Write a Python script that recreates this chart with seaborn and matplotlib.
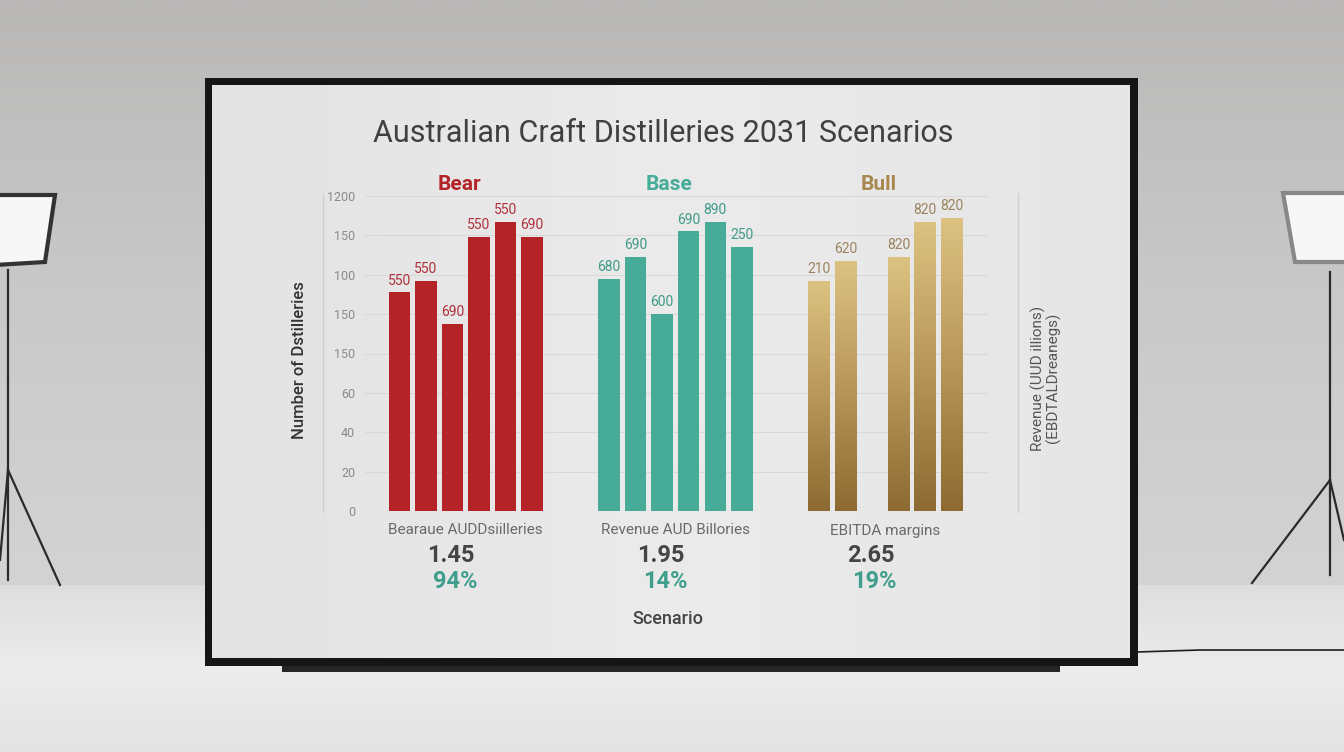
import numpy as np
import pandas as pd
import matplotlib
matplotlib.use("Agg")
import matplotlib.pyplot as plt
import seaborn as sns
from matplotlib.patches import Rectangle, Polygon
from matplotlib.colors import LinearSegmentedColormap
import matplotlib.transforms as mtransforms

# chart values
scenarios = ["Bear", "Base", "Bull"]
slots = ["s1", "s2", "s3", "s4", "s5", "s6"]
bear_counts = [111, 117, 95, 139, 147, 139]
base_counts = [118, 129, 100, 142, 147, 134]
bull_counts = [117, 127, np.nan, 129, 147, 149]
bear_tags = ["550", "550", "690", "550", "550", "690"]
base_tags = ["680", "690", "600", "690", "890", "250"]
bull_tags = ["210", "620", "", "820", "820", "820"]
y_ticks = [0, 20, 40, 60, 80, 100, 120, 140, 160]
y_ticklabels = ["0", "20", "40", "60", "150", "150", "100", "150", "1200"]
metric_labels = ["Bearaue AUDDsiilleries", "Revenue AUD Billories", "EBITDA margins"]
revenue_vals = ["1.45", "1.95", "2.65"]
margin_vals = ["94%", "14%", "19%"]

colors = {"Bear": "#b42328", "Base": "#46ab97", "Bull": "#b8975a"}
tag_colors = {"Bear": "#b0303a", "Base": "#3f9a88", "Bull": "#9c8460"}
teal = "#3f9e8c"

rows = []
for sc, vals in zip(scenarios, [bear_counts, base_counts, bull_counts]):
    for sl, v in zip(slots, vals):
        rows.append({"scenario": sc, "slot": sl, "count": v})
df = pd.DataFrame(rows)
tags = {"Bear": bear_tags, "Base": base_tags, "Bull": bull_tags}

W, H = 1344, 752
fig = plt.figure(figsize=(W / 100, H / 100), dpi=100)

# --- studio backdrop (photo of a monitor) ---
bg = fig.add_axes([0, 0, 1, 1], zorder=-5)
bg.set_xlim(0, W)
bg.set_ylim(H, 0)
bg.axis("off")
wall = LinearSegmentedColormap.from_list("wall", ["#b9b8b7", "#c9c9c9", "#d3d3d3"])
bg.imshow(np.linspace(0, 1, 256).reshape(-1, 1), cmap=wall, extent=[0, W, 585, 0], aspect="auto", zorder=0)
floor = LinearSegmentedColormap.from_list("floor", ["#dedede", "#ececec", "#e4e4e4"])
bg.imshow(np.linspace(0, 1, 256).reshape(-1, 1), cmap=floor, extent=[0, W, H, 585], aspect="auto", zorder=0)

# light stands
for pts in [[(8, 270), (8, 580)], [(8, 470), (60, 585)], [(8, 470), (0, 560)],
            [(1330, 272), (1330, 575)], [(1330, 480), (1252, 583)], [(1330, 480), (1344, 540)]]:
    bg.plot(*zip(*pts), color="#2a2a2a", lw=1.6, zorder=1)
bg.add_patch(Polygon([(-5, 195), (55, 195), (45, 262), (-5, 265)], closed=True, fc="#f7f7f7", ec="#333", lw=3, zorder=1))
bg.add_patch(Polygon([(1283, 193), (1350, 193), (1350, 262), (1295, 262)], closed=True, fc="#f7f7f7", ec="#888", lw=3, zorder=1))
bg.plot([1137, 1200, 1344], [652, 650, 650], color="#1e1e1e", lw=1.2, zorder=1)

# monitor
bg.add_patch(Rectangle((282, 656), 778, 16, fc="#262626", ec="none", zorder=2))
bg.add_patch(Rectangle((205, 78), 933, 588, fc="#151515", ec="none", zorder=2))
screen = LinearSegmentedColormap.from_list("screen", ["#e3e3e3", "#ebebeb", "#e6e6e6"])
bg.imshow(np.linspace(0, 1, 256).reshape(1, -1), cmap=screen, extent=[212, 1130, 658, 85],
          aspect="auto", zorder=3)

# --- the chart on the screen ---
sns.set_style("white")
plt.rcParams["font.family"] = ["Roboto", "DejaVu Sans"]

ax = fig.add_axes([365 / W, 1 - 511 / H, 623 / W, 315 / H])
ax.set_facecolor("none")
sns.barplot(data=df, x="scenario", y="count", hue="slot", order=scenarios, hue_order=slots,
            width=0.76, gap=0.19, dodge=True, errorbar=None, legend=False, saturation=1,
            palette=["#999999"] * 6, ax=ax, zorder=3)

gold = LinearSegmentedColormap.from_list("gold", ["#8d6a31", "#b8975a", "#dcc382"])
grad = np.linspace(0, 1, 256).reshape(-1, 1)
step = 0.76 / 6
for p in list(ax.patches):
    h = p.get_height()
    if not np.isfinite(h) or h == 0:
        continue
    cx = p.get_x() + p.get_width() / 2
    j = int(round(cx))
    k = int(round((cx - j + 0.38 - step / 2) / step))
    sc = scenarios[j]
    p.set_facecolor(colors[sc])
    p.set_edgecolor("none")
    if sc == "Bull":
        im = ax.imshow(grad, extent=[p.get_x(), p.get_x() + p.get_width(), 0, h],
                       origin="lower", cmap=gold, aspect="auto", zorder=4)
        im.set_clip_path(p)
    ax.text(cx, h + 2.5, tags[sc][k], ha="center", va="bottom", fontsize=10,
            color=tag_colors[sc], zorder=5)

ax.set_xlim(-0.48, 2.49)
ax.set_ylim(0, 160)
ax.set_yticks(y_ticks, y_ticklabels)
ax.yaxis.grid(True, color="#d8d8d8", lw=0.8, zorder=0)
ax.set_axisbelow(True)
ax.tick_params(axis="y", length=0, pad=7, labelsize=9, labelcolor="#8a8a8a")
ax.tick_params(axis="x", length=0, pad=9, labelsize=11, labelcolor="#6a6a6a")
ax.set_xticks(range(3), metric_labels)
ax.set_xlabel("")
ax.set_ylabel("")
sns.despine(ax=ax, left=True, right=True, top=True, bottom=True)

top = mtransforms.blended_transform_factory(ax.transData, ax.transAxes)
for j, sc in enumerate(scenarios):
    ax.text(j - 0.03, 1.005, sc, transform=top, ha="center", va="bottom",
            fontsize=15, fontweight="bold", color=colors[sc] if sc != "Bull" else "#a8884e")

low = mtransforms.blended_transform_factory(ax.transData, fig.transFigure)
for j in range(3):
    ax.text(j - 0.07, 1 - 556 / H, revenue_vals[j], transform=low, ha="center", va="center",
            fontsize=17, fontweight="bold", color="#454545")
    ax.text(j - 0.05, 1 - 581 / H, margin_vals[j], transform=low, ha="center", va="center",
            fontsize=17, fontweight="bold", color=teal)

fig.text(668 / W, 1 - 619 / H, "Scenario", ha="center", va="center", fontsize=13,
         fontweight="medium", color="#454545")
fig.text(663 / W, 1 - 133 / H, "Australian Craft Distilleries 2031 Scenarios", ha="center",
         va="center", fontsize=22, color="#404040")
fig.text(300 / W, 1 - 360 / H, "Number of Dstilleries", rotation=90, ha="center", va="center",
         fontsize=12, fontweight="medium", color="#333333")
fig.text(1046 / W, 1 - 378 / H, "Revenue (UUD illions)\n(EBDTALDreanegs)", rotation=90,
         ha="center", va="center", fontsize=11, color="#555555", multialignment="center",
         linespacing=1.0)

# side rules of the chart frame
fig.add_artist(plt.Line2D([323 / W, 323 / W], [1 - 512 / H, 1 - 195 / H], color="#cfcfcf", lw=1))
fig.add_artist(plt.Line2D([1018 / W, 1018 / W], [1 - 512 / H, 1 - 193 / H], color="#cfcfcf", lw=1))

fig.savefig("out.png", dpi=100)
